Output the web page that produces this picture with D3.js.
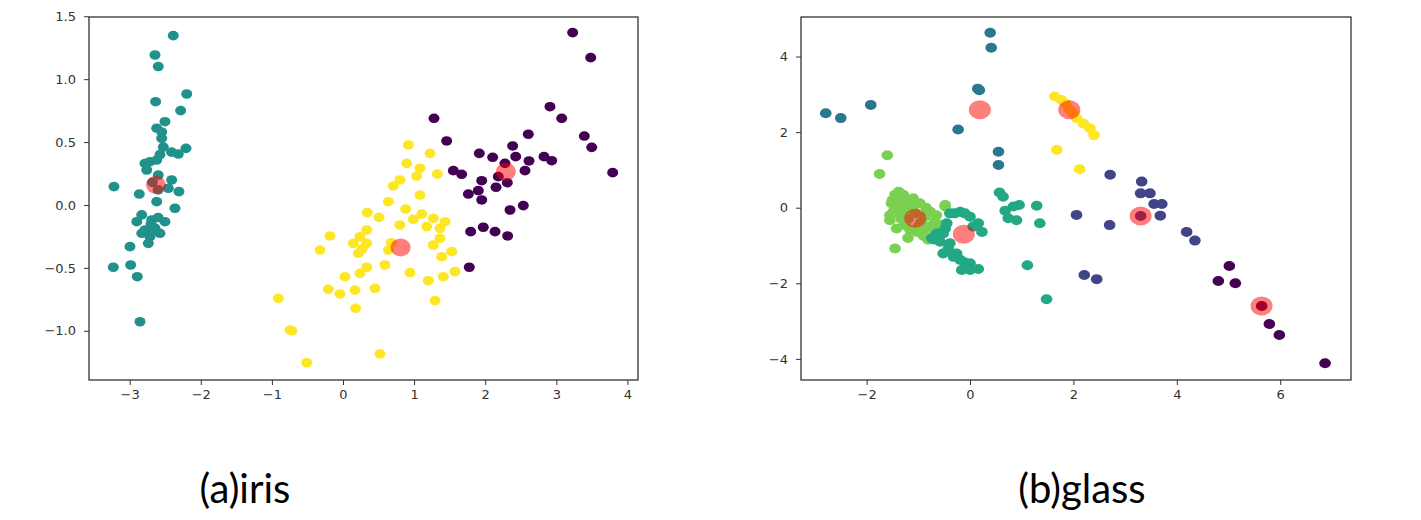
<!DOCTYPE html>
<html>
<head>
<meta charset="utf-8">
<script src="https://cdn.jsdelivr.net/npm/d3@7"></script>
<style>
    body { margin: 0; background: #fff; }
    svg { display: block; }
    .tick text { font-family: "DejaVu Sans", sans-serif; font-size: 13px; fill: #333; }
    .tick line { stroke: #333; }
    .caption { font-family: Lato, "Open Sans", sans-serif; font-size: 40px; fill: #000; }
</style>
</head>
<body>
<svg class="chart"></svg>
<script>

// --- iris: k-means clusters on the first two principal components ---
var irisCluster0 = [ // purple
    [3.23,1.37],[3.484,1.171],[2.911,0.781],[3.076,0.689],[1.28,0.689],[2.606,0.562],[3.394,0.548],
    [3.498,0.458],[1.458,0.509],[2.386,0.469],[1.917,0.41],[2.105,0.379],[2.429,0.384],[2.616,0.35],
    [2.827,0.384],[2.935,0.352],[3.793,0.257],[2.278,0.331],[1.552,0.273],[1.669,0.244],[2.56,0.273],
    [2.184,0.225],[2.311,0.177],[1.951,0.193],[2.152,0.141],[1.763,0.087],[1.903,0.114],[1.951,0.04],
    [2.349,-0.04],[2.536,-0.005],[1.796,-0.212],[1.973,-0.177],[2.138,-0.212],[2.316,-0.246],[1.776,-0.495]
];
var irisCluster1 = [ // teal
    [-2.387,1.346],[-2.644,1.192],[-2.598,1.10],[-2.198,0.882],[-2.635,0.821],[-2.283,0.75],[-2.504,0.662],
    [-2.62,0.61],[-2.55,0.53],[-2.527,0.46],[-2.208,0.45],[-2.316,0.405],[-2.41,0.42],[-2.574,0.40],
    [-2.714,0.344],[-2.62,0.357],[-2.76,0.278],[-2.785,0.33],[-2.598,0.238],[-2.41,0.199],[-3.221,0.146],
    [-2.307,0.106],[-2.865,0.087],[-2.457,0.133],[-2.62,0.026],[-2.363,-0.026],[-2.831,-0.079],[-2.90,-0.133],
    [-2.69,-0.119],[-2.504,-0.133],[-2.785,-0.199],[-2.644,-0.185],[-2.574,-0.225],[-2.83,-0.225],
    [-2.714,-0.252],[-2.738,-0.305],[-2.996,-0.331],[-3.23,-0.495],[-2.986,-0.477],[-2.893,-0.57],
    [-2.855,-0.928],[-2.68,0.18],[-2.6,0.12],[-2.7,-0.15],[-2.6,-0.1],[-2.66,-0.2],[-2.55,0.58]
];
var irisCluster2 = [ // yellow
    [0.919,0.477],[1.224,0.41],[0.895,0.331],[1.083,0.292],[1.036,0.23],[1.327,0.246],[0.80,0.199],
    [0.708,0.151],[1.083,0.079],[0.637,0.026],[0.881,-0.032],[0.342,-0.061],[0.506,-0.098],[1.107,-0.072],
    [0.989,-0.114],[1.27,-0.106],[1.435,-0.133],[0.80,-0.159],[1.177,-0.172],[1.364,-0.185],[0.333,-0.199],
    [-0.183,-0.246],[0.239,-0.252],[0.145,-0.305],[0.333,-0.305],[1.364,-0.265],[1.27,-0.318],[-0.323,-0.358],
    [0.215,-0.384],[0.637,-0.358],[1.529,-0.371],[1.388,-0.411],[0.59,-0.477],[0.333,-0.495],[0.239,-0.543],
    [0.942,-0.538],[1.575,-0.53],[0.028,-0.57],[1.2,-0.602],[1.411,-0.57],[0.45,-0.662],[0.169,-0.676],
    [-0.206,-0.67],[-0.042,-0.707],[-0.91,-0.742],[1.294,-0.76],[0.178,-0.821],[-0.745,-0.994],
    [-0.72,-1.0],[0.52,-1.184],[-0.51,-1.254],[0.27,-0.35],[0.68,-0.3]
];
var irisCentroids = [[2.29,0.265],[-2.63,0.16],[0.81,-0.337]];

// --- glass: six clusters ---
var glassCluster0 = [[5.016,-1.542],[4.803,-1.939],[5.132,-2.0],[5.642,-2.6],[5.79,-3.077],[5.983,-3.368],[6.867,-4.117]];
var glassCluster1 = [
    [2.71,0.87],[3.32,0.69],[3.30,0.38],[3.48,0.38],[3.56,0.10],[3.71,0.10],[3.68,-0.21],
    [3.30,-0.22],[2.06,-0.19],[2.70,-0.46],[4.19,-0.64],[4.35,-0.87],[2.21,-1.78],[2.45,-1.89]
];
var glassCluster2 = [[-2.79,2.50],[-2.50,2.37],[-1.92,2.72],[0.39,4.63],[0.41,4.23],[0.18,3.11],[0.15,3.15],[-0.23,2.07],[0.55,1.48],[0.55,1.13]];
var glassCluster3 = [
    [0.57,0.40],[0.64,0.29],[0.68,-0.08],[0.84,0.03],[0.95,0.07],[0.74,-0.28],[0.90,-0.33],[1.29,0.05],
    [1.35,-0.41],[1.11,-1.52],[1.48,-2.42],
    [-0.39,-0.15],[-0.19,-0.11],[0.0,-0.24],[0.16,-0.41],[0.23,-0.64],[-0.45,-0.41],[-0.52,-0.68],
    [-0.74,-0.81],[-0.58,-0.90],[-0.42,-1.08],[-0.52,-1.21],[-0.32,-1.30],[-0.19,-1.38],[-0.06,-1.52],
    [-0.16,-1.65],[0.16,-1.62],[0.0,-1.65],[-0.26,-1.21],[-0.39,-0.94],[-0.64,-0.68],[-0.30,-0.15],
    [0.06,-0.5],[-0.1,-1.45],[0.0,-1.47],[-0.7,-0.84],[-0.48,-0.55],[-0.1,-0.15]
];
var glassCluster4 = [
    [-1.60,1.39],[-1.75,0.89],[-1.45,-1.08],[-0.48,0.03],[-1.45,0.34],[-1.29,0.34],[-1.40,0.25],
    [-1.52,0.12],[-1.35,0.07],[-1.16,0.12],[-0.97,0.12],[-1.22,0.20],[-1.55,-0.33],[-1.39,-0.15],
    [-1.42,-0.55],[-1.26,-0.46],[-0.87,-0.24],[-0.77,-0.11],[-0.68,-0.37],[-0.90,-0.59],[-1.03,-0.64],
    [-1.16,-0.59],[-0.61,-0.59],[-0.81,-0.85],[-0.48,0.07],[-1.29,-0.07],[-1.10,-0.06],[-1.20,-0.30],
    [-0.95,-0.40],[-1.33,-0.30],[-1.48,-0.10],[-0.70,-0.70],[-0.55,-0.45],[-1.05,-0.15],[-0.85,0.0],
    [-1.50,0.20],[-1.30,0.10],[-1.00,-0.50],[-0.80,-0.50],[-0.65,-0.20],[-1.55,-0.20],[-1.20,-0.80],
    [-0.90,-0.75],[-1.38,0.42],[-1.10,0.25]
];
var glassCluster5 = [[1.64,2.94],[1.77,2.85],[1.85,2.75],[1.92,2.6],[2.0,2.5],[2.06,2.37],[2.19,2.23],[2.32,2.10],[2.40,1.92],[1.68,1.53],[2.12,1.02]];
var glassCentroids = [[5.64,-2.60],[3.30,-0.22],[0.19,2.59],[-0.12,-0.70],[-1.06,-0.28],[1.92,2.59]];

// tick values and captions
var irisXTicks = [-3, -2, -1, 0, 1, 2, 3, 4];
var irisYTicks = [-1.0, -0.5, 0.0, 0.5, 1.0, 1.5];
var glassXTicks = [-2, 0, 2, 4, 6];
var glassYTicks = [-4, -2, 0, 2, 4];
var captions = ["(a)iris", "(b)glass"];

var irisColors = ["#440154", "#21918c", "#fde725"];
var glassColors = ["#440154", "#414487", "#2a788e", "#22a884", "#7ad151", "#fde725"];

var minus = function (s) { return s.replace("-", "\u2212"); }; // matplotlib uses a real minus sign

function drawPanel (svg, opt) {
    var x = d3.scaleLinear().domain(opt.xDomain).range([opt.left, opt.right]);
    var y = d3.scaleLinear().domain(opt.yDomain).range([opt.bottom, opt.top]);
    var g = svg.append("g");

    opt.order.forEach(function (i) { // one colour per cluster, drawn in the given order
        g.append("g").selectAll("ellipse")
            .data(opt.clusters[i])
            .join("ellipse")
            .attr("cx", d => x(d[0]))
            .attr("cy", d => y(d[1]))
            .attr("rx", opt.dotRx)
            .attr("ry", opt.dotRy)
            .attr("fill", opt.colors[i]);
    });

    g.append("g").selectAll("ellipse") // the cluster centres, translucent red
        .data(opt.centroids)
        .join("ellipse")
        .attr("cx", d => x(d[0]))
        .attr("cy", d => y(d[1]))
        .attr("rx", opt.cRx)
        .attr("ry", opt.cRy)
        .attr("fill", "red")
        .attr("fill-opacity", 0.5);

    g.append("g")
        .attr("transform", "translate(0," + opt.bottom + ")")
        .call(d3.axisBottom(x).tickValues(opt.xTicks).tickSize(5).tickPadding(5)
            .tickFormat(d => minus(d3.format("d")(d))))
        .call(a => a.select(".domain").remove());

    g.append("g")
        .attr("transform", "translate(" + opt.left + ",0)")
        .call(d3.axisLeft(y).tickValues(opt.yTicks).tickSize(5).tickPadding(8)
            .tickFormat(d => minus(d3.format(opt.yFormat)(d))))
        .call(a => a.select(".domain").remove());

    g.append("rect") // the frame
        .attr("x", opt.left)
        .attr("y", opt.top)
        .attr("width", opt.right - opt.left)
        .attr("height", opt.bottom - opt.top)
        .attr("fill", "none")
        .attr("stroke", "#333")
        .attr("stroke-width", 1.3);

    svg.append("text")
        .attr("class", "caption")
        .attr("x", opt.captionX)
        .attr("y", 503)
        .attr("text-anchor", "middle")
        .text(opt.caption);
}

window.onload = function () {
    var svg = d3.select("svg.chart").attr("width", 1421).attr("height", 520);

    drawPanel(svg, {
        left: 89, right: 638, top: 17, bottom: 380,
        xDomain: [-3.572, 4.149], yDomain: [-1.391, 1.494],
        clusters: [irisCluster0, irisCluster1, irisCluster2], colors: irisColors, order: [2, 0, 1],
        centroids: irisCentroids,
        dotRx: 5.5, dotRy: 4.8, cRx: 10, cRy: 9,
        xTicks: irisXTicks, yTicks: irisYTicks, yFormat: ".1f",
        caption: captions[0], captionX: 245
    });

    drawPanel(svg, {
        left: 801, right: 1351, top: 17, bottom: 380,
        xDomain: [-3.269, 7.369], yDomain: [-4.558, 5.045],
        clusters: [glassCluster0, glassCluster1, glassCluster2, glassCluster3, glassCluster4, glassCluster5],
        colors: glassColors, order: [5, 4, 3, 2, 1, 0],
        centroids: glassCentroids,
        dotRx: 5.8, dotRy: 5, cRx: 11, cRy: 9.5,
        xTicks: glassXTicks, yTicks: glassYTicks, yFormat: "d",
        caption: captions[1], captionX: 1082
    });
};
</script>
</body>
</html>
